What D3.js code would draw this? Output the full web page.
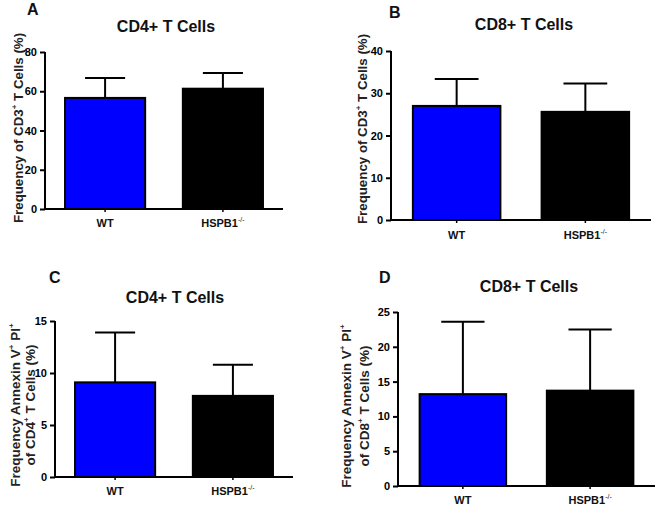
<!DOCTYPE html>
<html><head><meta charset="utf-8">
<script src="https://cdn.jsdelivr.net/npm/d3@7"></script>
<style>
html,body{margin:0;padding:0;background:#fff;}
svg{display:block;font-family:"Liberation Sans",Arial,sans-serif;}
</style></head>
<body>
<svg id="chart" width="660" height="506"></svg>
<script>
// ---- data ----
const groups = ["WT", "HSPB1"];
const panelLetters = ["A", "B", "C", "D"];
const panelTitles = ["CD4+ T Cells", "CD8+ T Cells", "CD4+ T Cells", "CD8+ T Cells"];
const wtMeans = [56.6, 27.0, 9.1, 13.2];
const wtErrors = [10.2, 6.4, 4.8, 10.4];
const koMeans = [61.3, 25.6, 7.8, 13.7];
const koErrors = [8.0, 6.7, 3.0, 8.8];
const yMaxes = [80, 40, 15, 25];
const yTickValues = [
  [0, 20, 40, 60, 80],
  [0, 10, 20, 30, 40],
  [0, 5, 10, 15],
  [0, 5, 10, 15, 20, 25]
];
const yLabelLines = [
  [["Frequency of CD3", "+", " T Cells (%)"]],
  [["Frequency of CD3", "+", " T Cells (%)"]],
  [["Frequency Annexin V", "+", " PI", "+"], ["of CD4", "+", " T Cells (%)"]],
  [["Frequency Annexin V", "+", " PI", "+"], ["of CD8", "+", " T Cells (%)"]]
];
const barColors = ["#0000ff", "#000000"];

// ---- layout (positions only) ----
const layouts = [
  {x0: 45, x1: 283, yTop: 52, yBot: 209, titleX: 166, titleY: 32, letX: 27, letY: 15, xlabY: 227, ylabX: [23], ylabY: 128, ylabFs: 13.3},
  {x0: 391, x1: 651, yTop: 51, yBot: 220, titleX: 524, titleY: 30, letX: 389, letY: 18, xlabY: 239, ylabX: [367], ylabY: 129, ylabFs: 13.3},
  {x0: 55, x1: 293, yTop: 321, yBot: 477, titleX: 175, titleY: 303, letX: 49, letY: 283, xlabY: 495, ylabX: [20, 35], ylabY: 405, ylabFs: 13.5},
  {x0: 398, x1: 655, yTop: 312, yBot: 486, titleX: 529, titleY: 292, letX: 379, letY: 283, xlabY: 504, ylabX: [351, 369], ylabY: 406, ylabFs: 13.5}
];

const svg = d3.select("#chart");

panelLetters.forEach((letter, i) => {
  const L = layouts[i];
  const g = svg.append("g");
  const x = d3.scaleBand().domain(groups).range([L.x0, L.x1]).paddingInner(0.32).paddingOuter(0.17);
  const y = d3.scaleLinear().domain([0, yMaxes[i]]).range([L.yBot, L.yTop]);

  const rows = groups.map((k, j) => ({
    key: k,
    mean: j === 0 ? wtMeans[i] : koMeans[i],
    err: j === 0 ? wtErrors[i] : koErrors[i],
    color: barColors[j]
  }));

  // error bars (upward only)
  const eb = g.selectAll(".eb").data(rows).enter().append("g");
  eb.append("line")
    .attr("x1", d => x(d.key) + x.bandwidth() / 2)
    .attr("x2", d => x(d.key) + x.bandwidth() / 2)
    .attr("y1", d => y(d.mean))
    .attr("y2", d => y(d.mean + d.err))
    .attr("stroke", "#000").attr("stroke-width", 2);
  eb.append("line")
    .attr("x1", d => x(d.key) + x.bandwidth() / 4)
    .attr("x2", d => x(d.key) + x.bandwidth() * 3 / 4)
    .attr("y1", d => y(d.mean + d.err))
    .attr("y2", d => y(d.mean + d.err))
    .attr("stroke", "#000").attr("stroke-width", 2);

  // bars
  g.selectAll(".bar").data(rows).enter().append("rect")
    .attr("x", d => x(d.key))
    .attr("width", x.bandwidth())
    .attr("y", d => y(d.mean))
    .attr("height", d => y(0) - y(d.mean))
    .attr("fill", d => d.color)
    .attr("stroke", "#000").attr("stroke-width", 2);

  // y axis
  const ya = g.append("g").attr("transform", `translate(${L.x0},0)`)
    .call(d3.axisLeft(y).tickValues(yTickValues[i]).tickSize(5).tickPadding(3).tickFormat(d3.format("d")));
  ya.select(".domain").attr("stroke-width", 2).attr("d", `M0,${L.yTop}V${L.yBot}`);
  ya.selectAll(".tick line").attr("stroke-width", 2);
  ya.selectAll(".tick text").attr("font-size", 11).attr("font-weight", "bold")
    .attr("font-family", "Liberation Sans, Arial, sans-serif").attr("fill", "#000");

  // x axis
  const xa = g.append("g").attr("transform", `translate(0,${L.yBot})`)
    .call(d3.axisBottom(x).tickSize(3).tickFormat(""));
  xa.select(".domain").attr("stroke-width", 2).attr("d", `M${L.x0 - 1},0H${L.x1}`);
  xa.selectAll(".tick line").attr("stroke-width", 1.5);

  // x labels
  groups.forEach(k => {
    const t = g.append("text")
      .attr("x", x(k) + x.bandwidth() / 2)
      .attr("y", L.xlabY)
      .attr("text-anchor", "middle")
      .attr("font-size", 11).attr("font-weight", "bold").attr("fill", "#111");
    if (k === "WT") {
      t.text("WT");
    } else {
      t.append("tspan").text("HSPB1");
      t.append("tspan").text("-/-").attr("font-size", 7).attr("font-weight", "normal").attr("dy", -5);
    }
  });

  // title
  g.append("text").attr("x", L.titleX).attr("y", L.titleY)
    .attr("text-anchor", "middle").attr("font-size", 16).attr("font-weight", "bold")
    .attr("fill", "#111").text(panelTitles[i]);

  // panel letter
  g.append("text").attr("x", L.letX).attr("y", L.letY)
    .attr("font-size", 16).attr("font-weight", "bold").attr("fill", "#111").text(letter);

  // y label
  yLabelLines[i].forEach((parts, li) => {
    const cx = L.ylabX[li];
    const t = g.append("text")
      .attr("transform", `translate(${cx},${L.ylabY}) rotate(-90)`)
      .attr("text-anchor", "middle")
      .attr("font-size", L.ylabFs).attr("font-weight", "bold").attr("fill", "#222");
    let raised = false;
    parts.forEach(p => {
      if (p === "+") {
        t.append("tspan").text("+").attr("font-size", 8).attr("dy", -6);
        raised = true;
      } else {
        const ts = t.append("tspan").text(p);
        if (raised) { ts.attr("dy", 6); raised = false; }
      }
    });
  });
});
</script>
</body></html>
